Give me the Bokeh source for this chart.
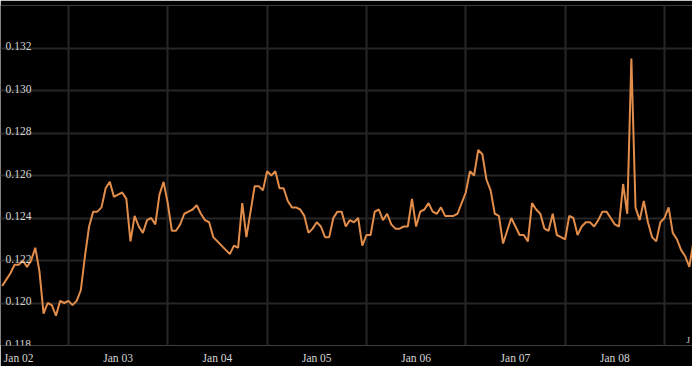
import pandas as pd
from bokeh.plotting import figure
from bokeh.models import (ColumnDataSource, FixedTicker, DatetimeTickFormatter,
                          Range1d, Label)
from bokeh.core.properties import value
from bokeh.embed import file_html
from bokeh.resources import INLINE

# ---- data (hourly readings) ----
start_time = "2024-01-02 08:00"
rates = [
    0.1208, 0.1211, 0.1214, 0.1218, 0.1218, 0.1220, 0.1217, 0.1220, 0.1226, 0.1215,
    0.1195, 0.1200, 0.1199, 0.1194, 0.1201, 0.1200, 0.1201, 0.1199, 0.1201, 0.1206,
    0.1222, 0.1236, 0.1243, 0.1243, 0.1245, 0.1254, 0.1257, 0.1250, 0.1251, 0.1252,
    0.1249, 0.1229, 0.1241, 0.1236, 0.1233, 0.1239, 0.1240, 0.1237, 0.1251, 0.1257,
    0.1247, 0.1234, 0.1234, 0.1237, 0.1242, 0.1243, 0.1244, 0.1246, 0.1242, 0.1239,
    0.1238, 0.1231, 0.1229, 0.1227, 0.1225, 0.1223, 0.1227, 0.1226, 0.1247, 0.1231,
    0.1243, 0.1255, 0.1255, 0.1253, 0.1262, 0.1260, 0.1262, 0.1254, 0.1254, 0.1248,
    0.1245, 0.1245, 0.1244, 0.1241, 0.1233, 0.1235, 0.1238, 0.1236, 0.1231, 0.1231,
    0.1240, 0.1243, 0.1243, 0.1236, 0.1239, 0.1238, 0.1240, 0.1227, 0.1232, 0.1232,
    0.1243, 0.1244, 0.1239, 0.1242, 0.1237, 0.1235, 0.1235, 0.1236, 0.1236, 0.1249,
    0.1236, 0.1243, 0.1244, 0.1247, 0.1243, 0.1242, 0.1245, 0.1241, 0.1241, 0.1241,
    0.1242, 0.1247, 0.1252, 0.1262, 0.1260, 0.1272, 0.1270, 0.1258, 0.1253, 0.1242,
    0.1241, 0.1228, 0.1234, 0.1240, 0.1236, 0.1232, 0.1232, 0.1229, 0.1247, 0.1244,
    0.1242, 0.1235, 0.1234, 0.1242, 0.1232, 0.1231, 0.1230, 0.1241, 0.1240, 0.1232,
    0.1236, 0.1238, 0.1238, 0.1236, 0.1239, 0.1243, 0.1243, 0.1240, 0.1237, 0.1236,
    0.1256, 0.1242, 0.1315, 0.1245, 0.1239, 0.1248, 0.1238, 0.1231, 0.1229, 0.1238,
    0.1240, 0.1245, 0.1233, 0.1230, 0.1225, 0.1222, 0.1217, 0.1229, 0.1239, 0.1246,
]

y_tick_values = [0.118, 0.120, 0.122, 0.124, 0.126, 0.128, 0.130, 0.132]
y_tick_labels = ["0.118", "0.120", "0.122", "0.124", "0.126", "0.128", "0.130", "0.132"]
y_grid_values = [0.118, 0.120, 0.122, 0.124, 0.126, 0.128, 0.130, 0.132, 0.134]

day_label_times = ["2024-01-02 12:00", "2024-01-03 12:00", "2024-01-04 12:00",
                   "2024-01-05 12:00", "2024-01-06 12:00", "2024-01-07 12:00",
                   "2024-01-08 12:00"]
day_grid_times = ["2024-01-03", "2024-01-04", "2024-01-05", "2024-01-06",
                  "2024-01-07", "2024-01-08", "2024-01-09"]

x_start = pd.Timestamp("2024-01-02 07:36")
x_end = pd.Timestamp("2024-01-09 06:46")

# ---- build ----
def to_ms(ts):
    return (pd.Timestamp(ts) - pd.Timestamp("1970-01-01")) / pd.Timedelta(milliseconds=1)

times = pd.date_range(start_time, periods=len(rates), freq="h")
src = ColumnDataSource(dict(t=times, v=rates))

BG = "#000000"
GRID = "#262626"
TXT = "#d6d6d6"
FONT = "Liberation Serif"

p = figure(width=692, height=366, x_axis_type="datetime",
           x_range=Range1d(x_start, x_end), y_range=Range1d(0.118, 0.134),
           y_axis_location=None, output_backend="svg", toolbar_location=None,
           background_fill_color=BG, border_fill_color=BG,
           min_border_left=0, min_border_right=0, min_border_top=5,
           min_border_bottom=19)
p.outline_line_color = None

p.xgrid.ticker = FixedTicker(ticks=[to_ms(t) for t in day_grid_times])
p.ygrid.ticker = FixedTicker(ticks=y_grid_values)
for g in (p.xgrid, p.ygrid):
    g.grid_line_color = GRID
    g.grid_line_width = 2

ax = p.xaxis[0]
ax.ticker = FixedTicker(ticks=[to_ms(t) for t in day_label_times])
ax.formatter = DatetimeTickFormatter(hours="%b %d", days="%b %d", months="%b %d",
                                     hourmin="%b %d", strip_leading_zeros=False)
ax.major_tick_out = 0
ax.major_tick_in = 0
ax.minor_tick_out = 0
ax.minor_tick_in = 0
ax.axis_line_color = None
ax.major_label_text_color = TXT
ax.major_label_text_font = FONT
ax.major_label_text_font_size = "11.5px"
ax.major_label_standoff = 6

p.line(x="t", y="v", source=src, line_color="#e38d4a", line_width=2)

lab_src = ColumnDataSource(dict(x=[x_start] * len(y_tick_values), y=y_tick_values,
                                text=y_tick_labels))
p.text(x="x", y="y", text="text", source=lab_src, x_offset=5, y_offset=-2,
       text_baseline="alphabetic", text_align="left", text_color=TXT,
       text_font=value(FONT), text_font_size="11.5px")

p.add_layout(Label(x=686, y=1, x_units="screen", y_units="screen", text="J",
                   text_color=TXT, text_font=FONT, text_font_size="9px",
                   text_baseline="bottom"))

open("out.html", "w").write(file_html(p, INLINE))
